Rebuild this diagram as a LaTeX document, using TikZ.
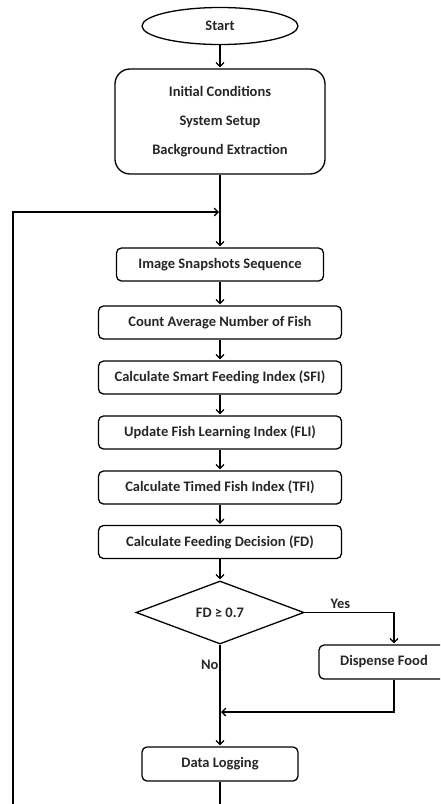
\documentclass[tikz,border=0pt]{standalone}
\usepackage{fontspec}
\setmainfont{Carlito}
\usetikzlibrary{arrows,shapes.geometric}

\begin{document}
\begin{tikzpicture}[->,>=angle 90,shorten >=1pt,x=1pt,y=1pt,line width=1.3pt,
    font=\bfseries\fontsize{14.5}{16}\selectfont,text=black!85]
      \tikzstyle{proc}=[draw,rounded corners=5pt,minimum width=243pt,minimum height=33pt,inner sep=0pt]
      \tikzstyle{term}=[draw,ellipse,minimum width=156pt,minimum height=37pt,inner sep=0pt]
      \tikzstyle{decide}=[draw,diamond,aspect=2.67,minimum width=168pt,minimum height=63pt,inner sep=0pt]

      \useasboundingbox (0,0) rectangle (440,-804);
      \clip (0,0) rectangle (440,-804);

      \node[term] (start) at (220,-26) {Start};
      \node[proc,rounded corners=15pt,minimum width=210pt,minimum height=105pt,align=center] (init) at (220,-121.5)
            {Initial Conditions\\[13pt]System Setup\\[13pt]Background Extraction};
      \node[proc,minimum width=207pt] (snap) at (220,-264.5) {Image Snapshots Sequence};
      \node[proc] (count) at (220,-322.5) {Count Average Number of Fish};
      \node[proc] (sfi) at (220,-377.5) {Calculate Smart Feeding Index (SFI)};
      \node[proc] (fli) at (220,-432.5) {Update Fish Learning Index (FLI)};
      \node[proc] (tfi) at (220,-487.5) {Calculate Timed Fish Index (TFI)};
      \node[proc] (fd) at (220,-542) {Calculate Feeding Decision (FD)};
      \node[decide] (dec) at (220,-612.5) {FD ≥ 0.7};
      \node[proc,minimum width=130pt,minimum height=34pt] (disp) at (384,-662) {Dispense Food};
      \node[proc,minimum width=156pt,minimum height=34pt] (log) at (220,-764) {Data Logging};

      \coordinate (merge) at (220,-212);
      \coordinate (join) at (220,-712);
      \coordinate (lbot) at (13,-805);

      \path (start) edge (init);
      \path (init) edge (snap);
      \path (snap) edge (count);
      \path (count) edge (sfi);
      \path (sfi) edge (fli);
      \path (fli) edge (tfi);
      \path (tfi) edge (fd);
      \path (fd) edge (dec);
      \path (dec) edge node[left,pos=0.2,inner sep=1pt] {No} (log);
      \draw (dec.east) -| node[above,pos=0.2] {Yes} ([xshift=10pt]disp.north);
      \draw ([xshift=10pt]disp.south) |- (join);
      \draw (log.south) |- (lbot) |- (merge);
\end{tikzpicture}
\end{document}
